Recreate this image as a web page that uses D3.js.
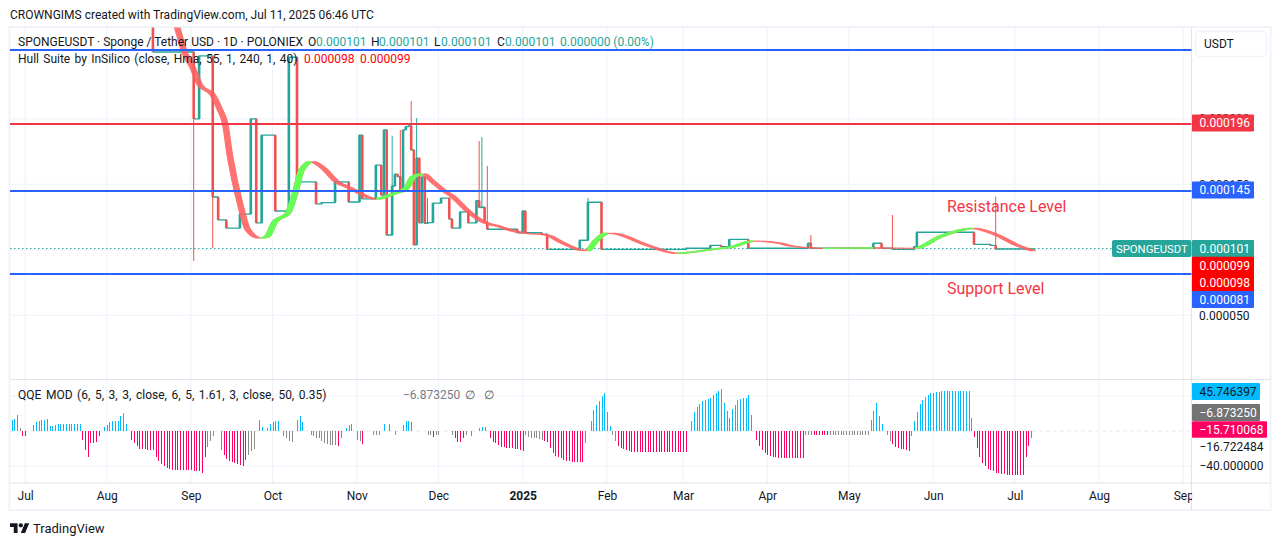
<!DOCTYPE html>
<html><head><meta charset="utf-8">
<script src="https://cdnjs.cloudflare.com/ajax/libs/d3/7.8.5/d3.min.js"></script>
<style>
html,body{margin:0;padding:0;background:#fff;overflow:hidden}
svg{display:block}
text{font-family:Roboto,"Open Sans",sans-serif;font-size:12px;fill:#131722}
</style></head><body>
<svg id="c" width="1281" height="546"></svg>
<script>
// ---- data (prices in units of 0.000001, days counted from 1 Aug 2024) ----
const monthTicks = ["2024-07-02","2024-08-01","2024-09-01","2024-10-01","2024-11-01","2024-12-01","2025-01-01","2025-02-01","2025-03-01","2025-04-01","2025-05-01","2025-06-01","2025-07-01","2025-08-01","2025-09-01"];
const monthLabels = ["Jul","Aug","Sep","Oct","Nov","Dec","2025","Feb","Mar","Apr","May","Jun","Jul","Aug","Sep"];
const candleDay = [17,32,34,39,41,44,49,53,55,57,62,67,70,77,79,84,89,93,94,99,101,102,103,105,106,107,108,109,110,111,112,113,114,115,116,117,118,120,123,126,127,130,133,136,137,138,139,140,151,153,154,160,162,174,177,182,213,222,226,229,236,258,259,282,285,289,297,298,319,325,327,341];
const candleClose = [251,200,248,140.3,122.8,116.6,127.3,200,120.5,187.6,129.6,247,151.8,135,136,151.8,136.5,187.6,138.8,164.7,141.8,191.5,111.3,148.7,157.7,155.8,145.7,191.5,194,194.5,176.2,103.7,170,120.5,155.6,120.2,120.7,135.7,139.5,123.5,116.6,129,120.5,137.5,132.5,132.5,121.2,115.7,113,129.6,113,112,100.4,107.3,136.3,100.4,101.2,103.4,102.4,108,101.2,105,101.2,105,101.2,100.4,102.4,113.4,104.2,103.4,100.6,101];
const firstOpen = 290;
const wickDay = [32,39,105,108,112,114,118,137,138,140,177,259,289,327];
const wickTip = [91.5,101.4,187,191.5,213.6,200.6,139.5,183,186,164,139.5,111.3,126.6,140.5];

const hullDay = [24,25.9,28.8,31.7,34.3,39.1,41.7,43.5,45.4,49,52,56.4,58.9,61.9,66.7,69.3,71.7,75.4,79.6,84.6,89.5,99.1,105.3,110.3,112.7,116.3,120,123.7,127.4,132.4,138.4,144.7,149.4,153.1,161.8,167.8,174.1,176.6,180.2,183.9,186.2,198.6,209.7,213.4,223,230.4,237.7,247.7,251.3,258.7,263.4,281.8,288.1,297.3,306.5,318.6,327.4,334.7,340.7];
const hullValue = [283,270,250,238.8,225.8,218,206.7,196.8,170.9,135.7,115.1,109,110,121.5,128.1,143.4,160.9,167.3,162.5,152,147.2,138.8,142.6,147.2,155.6,157.9,152,145.7,140.5,130.4,121.5,117.6,114.4,112.8,111.3,105.2,99.9,99.3,107.5,112.6,112.5,103.7,97.3,97.8,100.4,102.4,106.7,105,103.1,101.6,101.15,101.4,101.3,101.15,110,116.4,111.3,103.7,99.3];

const levelLines = [[252.5,"#2962ff"],[196,"#f23645"],[145,"#2962ff"],[81.5,"#2962ff"]];
const priceTicks = [50,150,200];
const qqeTicks = [40,-40];

// QQE histogram: runs of [colour key, values], each block anchored on its first day
const qqeBlockA = [["b",[13,14,18]],["g",[3]],["p",[-6,-6]],["g",[0,0]],["b",[7,10,11,13,13,14,6,6,7,8,8,8,8,8,8,8,8,8]],["p",[-10,-22,-30,-14,-14,-13,-6]],["g",[0]],["b",[5,7,10,11,11,12,17,21,8]],["g",[0]],["p",[-10,-14,-17,-20,-21,-21,-22,-22,-22,-30,-34,-38,-40,-42,-43,-44,-44,-45,-45,-45,-45,-45,-45,-46,-46,-46,-48,-30]],["g",[-18,-11,-6,0,0,-22]],["p",[-27,-32,-34,-35,-37,-38,-39,-40,-33]],["g",[-27,-23,-21,0]],["b",[13,5]],["g",[0]],["b",[4,8,10,11,12]],["g",[0,-6,-8,-11,-13,0]],["b",[13,17,10]],["g",[0,0,-5,-6,-8,-8,-11,-14,-15,-16,-16,-16]],["p",[-17]],["g",[-8,0]],["b",[4,7,8]],["g",[0,-10,-11]],["p",[-15]],["g",[0,0,0,-5,-5,-5,0]],["b",[8]],["g",[0]],["b",[8]],["g",[0,-4,0,0,0]]];
const qqeBlockB = [["b",[7,11,12,10]],["g",[0,0,0,0,0,-5,-5]],["p",[-7]],["g",[-5,-4,0,0,0,0,-5]],["p",[-8,-12,-13,-8]],["g",[-5,0,-6,0,0]],["b",[4,5,5]],["g",[0]],["p",[-8,-12,-14,-16,-18,-18,-19,-19,-19,-20,-21,-22,-23]],["g",[-5,-7,-8,-8,-8,-9,-10]],["p",[-11,-13,-19,-25,-29,-30,-31,-33,-34,-34,-35,-35,-35,-35,-35]],["g",[-14,0]],["b",[11,24,30,34,40,43,22,6]],["g",[-4,-11]],["p",[-17,-19,-21,-22,-23,-24,-24,-24,-24,-24,-24,-24,-24,-24,-24,-24,-24,-24,-24,-24,-24,-24,-24,-24,-24,-24]],["g",[0]],["b",[12,22,27,31,34,36,37,38,41,44,46,48,32,23,15,25,30,36,37,38,38,41,18]],["g",[0]],["p",[-10,-17,-22,-25,-27,-29,-30,-30,-31,-31,-31,-31,-31,-31,-31,-31,-31,-31]]];
const qqeBlockC = [["p",[-30]],["g",[-5,-5,-5]],["p",[-5,-5,-5,-5,-5,-5]],["g",[-5,-5,-5,-5,-5,-5,-5,-5,-5,-5,-5,-5,-5,-5,-5]],["b",[13,23,32,17,8]],["g",[0,-5,-11]],["p",[-15,-18,-19,-20,-21,-22,-23]],["g",[-6]],["b",[11,22,31,35,39,41,43,44,45,45,46,46,46,46,46,46,46,46,46,46,46]],["g",[15]],["p",[-7,-19,-30,-36,-40,-43,-45,-46,-48,-48,-49,-49,-50,-50,-50,-50,-50,-50,-50,-30,-17]],["g",[-8]]];
const qqeBlockStart = [-35,109,256];

// ---- layout ----
const FRAME = {l:10,r:1191.5,t:27.5,bottom:510,right:1270.5,pane:379.5,time:483};
const FONT_BOLD = 700;
const palette = {up:"#26a69a",down:"#ef5350",b:"#00bcff",p:"#ff0062",g:"#8a8a8a",grid:"#f0f3fa",border:"#e0e3eb"};

const svg = d3.select("#c");
const base = new Date(Date.UTC(2024,7,1));
const dayDate = n => new Date(base.getTime()+n*864e5);
const x = d3.scaleUtc().domain([new Date("2024-08-01"),new Date("2025-09-01")]).range([106.7,1183.3]);
const y = d3.scaleLinear().domain([50,200]).range([315.3,118.8]);
const q = d3.scaleLinear().domain([0,40]).range([431,396]);
const X = n => x(dayDate(n));

// frame
const defs = svg.append("defs");
defs.append("clipPath").attr("id","main").append("rect").attr("x",FRAME.l).attr("y",FRAME.t).attr("width",FRAME.r-FRAME.l).attr("height",FRAME.pane-FRAME.t);
defs.append("clipPath").attr("id","wide").append("rect").attr("x",FRAME.l).attr("y",FRAME.t).attr("width",FRAME.r-FRAME.l).attr("height",FRAME.bottom-FRAME.t);

svg.append("text").attr("x",10).attr("y",19).text("CROWNGIMS created with TradingView.com, Jul 11, 2025 06:46 UTC");

// grid
const grid = svg.append("g").attr("clip-path","url(#wide)").attr("stroke",palette.grid).attr("stroke-width",1.2);
monthTicks.forEach(t=>{const px=x(new Date(t));grid.append("line").attr("x1",px).attr("x2",px).attr("y1",FRAME.t).attr("y2",FRAME.time);});
[50,100,150,200].forEach(v=>grid.append("line").attr("x1",FRAME.l).attr("x2",FRAME.r).attr("y1",y(v)).attr("y2",y(v)));
qqeTicks.forEach(v=>grid.append("line").attr("x1",FRAME.l).attr("x2",FRAME.r).attr("y1",q(v)).attr("y2",q(v)));

// borders
const bord = svg.append("g").attr("stroke",palette.grid).attr("stroke-width",2).attr("fill","none");
bord.append("rect").attr("x",FRAME.l-.5).attr("y",FRAME.t-.5).attr("width",FRAME.right-FRAME.l+.5).attr("height",FRAME.bottom-FRAME.t+.5);
const sep = svg.append("g").attr("stroke",palette.border).attr("stroke-width",1.2);
sep.append("line").attr("x1",FRAME.l).attr("x2",FRAME.right).attr("y1",FRAME.pane).attr("y2",FRAME.pane);
sep.append("line").attr("x1",FRAME.l).attr("x2",FRAME.right).attr("y1",FRAME.time).attr("y2",FRAME.time);
sep.append("line").attr("x1",FRAME.r).attr("x2",FRAME.r).attr("y1",FRAME.t).attr("y2",FRAME.bottom);

// last price dotted line
svg.append("line").attr("x1",FRAME.l).attr("x2",1112).attr("y1",y(101)).attr("y2",y(101))
  .attr("stroke",palette.up).attr("stroke-width",1).attr("stroke-dasharray","1.5 2.5");

// candles
const main = svg.append("g").attr("clip-path","url(#main)");
const candles = candleDay.map((d,i)=>({day:d,close:candleClose[i],open:i?candleClose[i-1]:firstOpen}));
main.append("path").datum(candles)
  .attr("d",d3.line().x(d=>X(d.day)).y(d=>y(d.close)).curve(d3.curveStepAfter))
  .attr("fill","none").attr("stroke",palette.up).attr("stroke-width",1.3);
const colorOf = c => c.close>=c.open?palette.up:palette.down;
main.selectAll(".wick").data(wickDay).join("line")
  .attr("x1",d=>X(d)).attr("x2",d=>X(d))
  .attr("y1",(d,i)=>y(wickTip[i]))
  .attr("y2",(d,i)=>y(candles.find(c=>c.day===d).close))
  .attr("stroke",d=>colorOf(candles.find(c=>c.day===d))).attr("stroke-width",1);
main.selectAll(".body").data(candles).join("rect")
  .attr("x",d=>X(d.day)-1.3).attr("width",2.6)
  .attr("y",d=>y(Math.max(d.open,d.close))).attr("height",d=>Math.max(1,Math.abs(y(d.open)-y(d.close))))
  .attr("fill",colorOf);

// Hull band: the two lines are one day either side of the centre
const hull = hullDay.map((d,i)=>({day:d,v:hullValue[i]}));
const band = d3.area().x0(d=>X(d.day-1)).x1(d=>X(d.day+1)).y0(d=>y(d.v)).y1(d=>y(d.v)).curve(d3.curveMonotoneX);
const rising = defs.append("clipPath").attr("id","rising");
hull.forEach((h,i)=>{ if(i && h.v>hull[i-1].v){
  rising.append("rect").attr("x",X(hull[i-1].day)).attr("width",X(h.day)-X(hull[i-1].day)+.3).attr("y",0).attr("height",546);
}});
const redBand = main.append("g");
redBand.append("path").datum(hull).attr("d",band).attr("fill","#ff5f5f").attr("stroke","#ff5f5f").attr("stroke-width",1.2).attr("opacity",.88);
const greenBand = main.append("g").attr("clip-path","url(#rising)");
greenBand.append("path").datum(hull).attr("d",band).attr("fill","#66ff55").attr("stroke","#66ff55").attr("stroke-width",1.2);

// level lines
svg.append("g").selectAll("line").data(levelLines).join("line")
  .attr("x1",FRAME.l).attr("x2",FRAME.r).attr("y1",d=>Math.round(y(d[0]))).attr("y2",d=>Math.round(y(d[0])))
  .attr("stroke",d=>d[1]).attr("stroke-width",2);

svg.append("text").attr("x",947).attr("y",212).style("font-size","16px").style("fill","#f23645").text("Resistance Level");
svg.append("text").attr("x",947).attr("y",294).style("font-size","16px").style("fill","#f23645").text("Support Level");

// QQE
const qqe = [];
[qqeBlockA,qqeBlockB,qqeBlockC].forEach((blk,b)=>{let n=qqeBlockStart[b];
  blk.forEach(([k,vals])=>vals.forEach(v=>{qqe.push({day:n++,k,v});}));});
svg.append("g").attr("clip-path","url(#wide)").attr("shape-rendering","crispEdges").selectAll("rect").data(qqe.filter(d=>d.v!==0)).join("rect")
  .attr("x",d=>Math.round(X(d.day))).attr("width",1)
  .attr("y",d=>Math.min(q(d.v),q(0))).attr("height",d=>Math.abs(q(d.v)-q(0)))
  .attr("fill",d=>palette[d.k]);
svg.append("line").attr("x1",FRAME.l).attr("x2",FRAME.r).attr("y1",q(0)).attr("y2",q(0))
  .attr("stroke","#e0e3eb").attr("stroke-width",.8).attr("stroke-dasharray","4 3").lower();

// time axis
const timeAxis = d3.axisBottom(x).tickValues(monthTicks.map(t=>new Date(t))).tickSize(0).tickPadding(0)
  .tickFormat((d,i)=>monthLabels[i]);
const tg = svg.append("g").attr("transform",`translate(0,${FRAME.time+17})`).call(timeAxis);
tg.select(".domain").remove();
tg.selectAll("text").style("font-size","12px").style("fill","#131722").attr("dy",0)
  .style("font-family","Roboto").style("font-weight",(d,i)=>monthLabels[i]==="2025"?FONT_BOLD:400);
svg.append("rect").attr("x",FRAME.r+.6).attr("y",FRAME.time+1).attr("width",FRAME.right-FRAME.r-1.6).attr("height",FRAME.bottom-FRAME.time-2).attr("fill","#fff");

// price axis
const fmt = v=>(v/1e6).toFixed(6);
const pg = svg.append("g").attr("transform",`translate(${FRAME.r},0)`).call(d3.axisRight(y).tickValues(priceTicks).tickSize(0).tickPadding(7.5).tickFormat(fmt));
pg.select(".domain").remove();
pg.selectAll("text").style("font-size","12px").style("font-family","Roboto").style("fill","#131722");

// labels
function tag(g,x0,w,yc,h,bg,fg,label,r,pad){
  g.append("rect").attr("x",x0).attr("y",yc-h/2).attr("width",w).attr("height",h).attr("rx",r).attr("fill",bg);
  return g.append("text").attr("x",x0+(pad||7.5)).attr("y",yc+4.3).style("fill",fg).text(label);
}
const lab = svg.append("g");
tag(lab,1112,79.5,248.5,17,palette.up,"#fff","SPONGEUSDT",2,4).style("font-size","11.3px");
tag(lab,1192,62,248.5,17,palette.up,"#fff","0.000101",1);
tag(lab,1192,62,123,17,"#f23645","#fff","0.000196",1);
tag(lab,1192,62,190,17,"#2962ff","#fff","0.000145",1);
tag(lab,1192,62,265.5,17.5,"#ff0000","#fff","0.000099",0);
tag(lab,1192,62,282.7,17.5,"#ff0000","#fff","0.000098",0);
tag(lab,1192,62,299.5,17,"#2962ff","#fff","0.000081",1);
tag(lab,1192,68,391.5,17,"#00bcff","#131722","45.746397",1);
tag(lab,1192,68,412.5,17,"#737373","#fff","\u22126.873250",1);
tag(lab,1192,75,429.5,16.5,"#ff0062","#fff","\u221215.710068",1);
lab.append("text").attr("x",1199.5).attr("y",451).text("\u221216.722484");
lab.append("text").attr("x",1199.5).attr("y",470).text("\u221240.000000");
lab.append("rect").attr("x",1195.5).attr("y",31.5).attr("width",71).attr("height",25).attr("rx",4).attr("fill","#fff").attr("stroke",palette.grid).attr("stroke-width",1.5);
lab.append("text").attr("x",1204).attr("y",48).text("USDT");

// legends
const leg = svg.append("g");
const T=(xx,yy,s,c)=>leg.append("text").attr("x",xx).attr("y",yy).style("fill",c||"#131722").text(s);
T(18,46,"SPONGEUSDT \u00b7 Sponge / Tether USD \u00b7 1D \u00b7 POLONIEX");
[[308,"O"],[371,"H"],[434,"L"],[497,"C"]].forEach(([xx,s])=>{T(xx,46,s);T(xx+(s==="L"?7:8),46,"0.000101",palette.up);});
T(560,46,"0.000000 (0.00%)",palette.up);
T(18,63,"Hull Suite by InSilico (close, Hma, 55, 1, 240, 1, 40)").style("word-spacing","1.3px");
T(304,63,"0.000098","#ff0000");T(360,63,"0.000099","#ff0000");
T(18,399,"QQE MOD (6, 5, 3, 3, close, 6, 5, 1.61, 3, close, 50, 0.35)").style("word-spacing","1.6px");
T(403,399,"\u22126.873250","#787b86");T(465,399,"\u2205","#555");T(484,399,"\u2205","#555");

// logo
const logo = svg.append("g").attr("transform","translate(10,521) scale(0.54)").attr("fill","#131722");
logo.append("path").attr("d","M14 22H7V11H0V4h14v18zM28 22h-8l7.5-18h8L28 22z");
logo.append("circle").attr("cx",20).attr("cy",8).attr("r",4);
svg.append("text").attr("x",33).attr("y",533).style("font-size","13px").text("TradingView");
</script>
</body></html>
